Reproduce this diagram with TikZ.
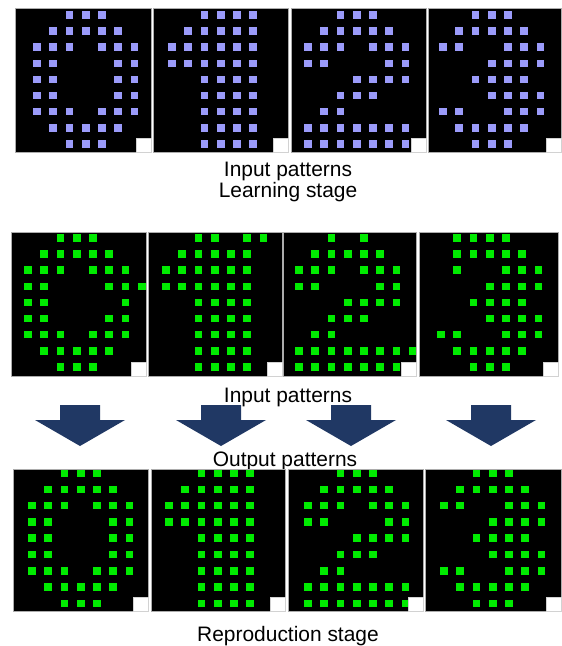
\documentclass[tikz,border=0pt]{standalone}
\usepackage{fontspec}
\setmainfont{Liberation Sans}
\definecolor{dotblue}{RGB}{155,155,250}
\definecolor{dotgreen}{RGB}{0,235,0}
\definecolor{arrownavy}{RGB}{32,56,100}
\def\PZero{0/{2,3,4},1/{1,2,3,4,5},2/{0,1,2,4,5,6},3/{0,1,5,6},4/{0,1,5,6},5/{0,1,5,6},6/{0,1,2,4,5,6},7/{1,2,3,4,5},8/{2,3,4}}
\def\POne{0/{2,3,4,5},1/{1,2,3,4,5},2/{0,1,2,3,4,5},3/{0,1,2,3,4,5},4/{2,3,4,5},5/{2,3,4,5},6/{2,3,4,5},7/{2,3,4,5},8/{2,3,4,5}}
\def\PTwo{0/{2,3,4},1/{1,2,3,4,5},2/{0,1,2,4,5,6},3/{0,1,5,6},4/{3,4,5,6},5/{2,3,4},6/{1,2},7/{0,1,2,3,4,5,6},8/{0,1,2,3,4,5,6}}
\def\PThree{0/{2,3,4},1/{1,2,3,4,5},2/{0,1,4,5,6},3/{3,4,5,6},4/{2,3,4,5},5/{3,4,5,6},6/{0,1,4,5,6},7/{1,2,3,4,5},8/{2,3,4}}
\def\NZero{0/{2,3,4},1/{1,2,3,4,5},2/{0,1,2,4,5,6},3/{0,1,5,6,7},4/{0,1,6},5/{0,1,5,6},6/{0,1,2,4,5,6},7/{1,2,3,4,5},8/{2,3,4}}
\def\NOne{0/{2,3,5,6},1/{1,2,3,4,5},2/{0,1,2,3,4,5},3/{0,1,2,3,4,5},4/{2,3,4,5},5/{2,3,4,5},6/{2,3,4,5},7/{2,3,4,5},8/{2,3,4,5}}
\def\NTwo{0/{2,4},1/{1,2,3,4,5},2/{0,1,2,4,5,6},3/{0,1,5,6},4/{3,4,5,6},5/{2,3,4},6/{1,2},7/{0,1,2,3,4,5,6,7},8/{0,1,2,3,4,5,6}}
\def\NThree{0/{1,2,3,4},1/{1,2,3,4,5},2/{1,4,5,6},3/{3,4,5,6},4/{2,3,4,5},5/{3,4,5,6},6/{0,1,4,5,6},7/{1,2,3,4,5},8/{2,3,4}}
% #1 left #2 top #3 right #4 bottom #5 x of column 0 #6 pattern #7 colour
\newcommand\dpanel[7]{%
  \begin{scope}
    \clip (#1,#2) rectangle (#3,#4);
    \fill[black] (#1,#2) rectangle (#3,#4);
    \foreach \r/\cs in #6 {\foreach \c in \cs {%
      \fill[#7] ({#5+\c*\dx-3.8},{\yzero+\r*\dy-3.8}) rectangle ++(7.6,7.6);}}
  \end{scope}
  \draw[panelborder] (#1,#2) rectangle (#3,#4);
  \fill[white,draw=gray!35] ({#3-15},{#4-14}) rectangle (#3,#4);
}
\newcommand\blockarrow[1]{%
  \fill[arrownavy] ({#1-20},405) -- ({#1+20},405) -- ({#1+20},420) -- ({#1+45},420)
    -- (#1,446) -- ({#1-45},420) -- ({#1-20},420) -- cycle;
}
\begin{document}
\begin{tikzpicture}[x=0.75pt,y=-0.75pt,
  panelborder/.style={draw=gray!65,line width=0.75pt},
  lbl/.style={font=\fontsize{15.7}{18}\selectfont,inner sep=0pt,anchor=base}]
\useasboundingbox (0,0) rectangle (561,646);
\fill[white] (0,0) rectangle (561,646);
\def\dx{16.25}
% top row: learning stage
\def\yzero{15}\def\dy{16.1}
\dpanel{15}{8}{151}{152}{37}{\PZero}{dotblue}
\dpanel{153}{8}{288}{152}{172}{\POne}{dotblue}
\dpanel{291}{8}{426}{152}{308}{\PTwo}{dotblue}
\dpanel{428}{8}{561}{152}{443}{\PThree}{dotblue}
\node[font=\fontsize{15.7}{13}\selectfont,inner sep=0pt,align=center,anchor=north]
  (inA) at (288,162) {Input patterns\\Learning stage};
% middle row: noisy input
\def\yzero{238}\def\dy{16.1}
\dpanel{11}{232}{146}{376}{28}{\NZero}{dotgreen}
\dpanel{148}{232}{282}{376}{166}{\NOne}{dotgreen}
\dpanel{283}{232}{416}{376}{299}{\NTwo}{dotgreen}
\dpanel{419}{232}{558}{376}{441}{\NThree}{dotgreen}
\node[lbl] (inB) at (288,402) {Input patterns};
\blockarrow{80}
\blockarrow{221}
\blockarrow{351}
\blockarrow{491}
\node[lbl] (out) at (285,466) {Output patterns};
% bottom row: reproduction
\def\yzero{473}\def\dy{16.3}
\dpanel{13}{469}{148}{611}{32}{\PZero}{dotgreen}
\dpanel{151}{469}{285}{611}{169}{\POne}{dotgreen}
\dpanel{288}{469}{423}{611}{308}{\PTwo}{dotgreen}
\dpanel{425}{469}{561}{611}{444}{\PThree}{dotgreen}
\node[lbl] (repro) at (288,641) {Reproduction stage};
\end{tikzpicture}
\end{document}
